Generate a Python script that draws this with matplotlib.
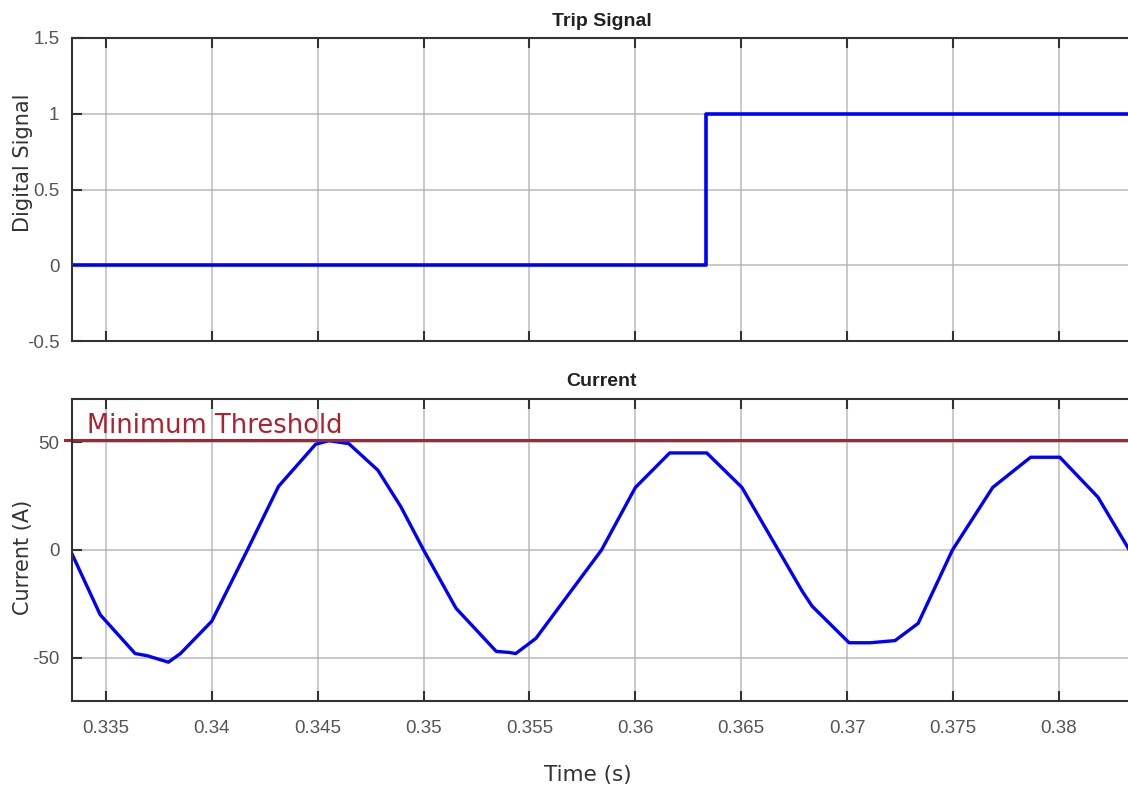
import matplotlib
matplotlib.use("Agg")
import matplotlib.pyplot as plt
import numpy as np

# Data
trip_time = [0.3334, 0.36332, 0.36332, 0.3834]
trip_value = [0, 0, 1, 1]

cur_time = [0.3334, 0.33473, 0.33638, 0.33695, 0.33795, 0.33852, 0.3400, 0.34168,
            0.34315, 0.3449, 0.34552, 0.34647, 0.34784, 0.34893, 0.3500, 0.35153,
            0.35343, 0.35405, 0.35435, 0.35530, 0.3584, 0.3600, 0.36162, 0.36337,
            0.36503, 0.36787, 0.36834, 0.37009, 0.37108, 0.37226, 0.37335, 0.37497,
            0.37687, 0.37866, 0.38004, 0.38184, 0.38335]
cur_value = [-1.8, -30, -48, -49, -52, -48, -33, 0,
             29.5, 49, 50.7, 49.3, 37, 20, 0, -27,
             -47, -47.5, -48, -41, 0, 29, 45, 45,
             29, -19, -26, -43, -43, -42, -34, 0,
             29, 43, 43, 24.5, -0.5]

threshold = 51
xticks = [0.335, 0.34, 0.345, 0.35, 0.355, 0.36, 0.365, 0.37, 0.375, 0.38]
xticklabels = ["0.335", "0.34", "0.345", "0.35", "0.355", "0.36", "0.365", "0.37", "0.375", "0.38"]

W, H = 1128, 792
fig = plt.figure(figsize=(W / 100, H / 100), dpi=100)

def frac(x0, y0, x1, y1):
    return [x0 / W, 1 - y1 / H, (x1 - x0) / W, (y1 - y0) / H]

ax1 = fig.add_axes(frac(72, 38, 1131, 341))
ax2 = fig.add_axes(frac(72, 399, 1131, 701))

TICK_SIZE = 13.5
LABEL_COLOR = "#555555"

for ax in (ax1, ax2):
    ax.set_xlim(0.3334, 0.3834)
    ax.set_xticks(xticks)
    ax.grid(True, color="#b0b0b0", linewidth=1.2, alpha=0.8)
    ax.tick_params(direction="in", length=7, width=1.5, top=True, right=False,
                   colors="#333333", labelcolor=LABEL_COLOR, labelsize=TICK_SIZE)
    ax.tick_params(axis="y", pad=9)
    for sp in ax.spines.values():
        sp.set_color("#333333")
        sp.set_linewidth(1.5)

# Top plot
ax1.plot(trip_time, trip_value, color="#0000ff", linewidth=2.6)
ax1.set_ylim(-0.5, 1.5)
ax1.set_yticks([-0.5, 0, 0.5, 1, 1.5])
ax1.set_yticklabels(["-0.5", "0", "0.5", "1", "1.5"], family="Liberation Sans")
ax1.set_xticklabels([])
ax1.set_title("Trip Signal", fontsize=14, fontweight="bold", family="Liberation Sans",
              color="#222222", pad=9)
ax1.set_ylabel("Digital Signal", fontsize=15, color="#333333", family="DejaVu Sans")
ax1.yaxis.set_label_coords(-39 / 1059, (341 - 163) / 303)

# Bottom plot
ax2.plot(cur_time, cur_value, color="#0000ff", linewidth=2.4)
ax2.set_ylim(-70, 70)
ax2.set_yticks([-50, 0, 50])
ax2.set_yticklabels(["-50", "0", "50"], family="Liberation Sans")
ax2.set_xticklabels(xticklabels, family="Liberation Sans")
ax2.tick_params(axis="x", pad=14)
ax2.set_title("Current", fontsize=14, fontweight="bold", family="Liberation Sans",
              color="#222222", pad=9)
ax2.set_ylabel("Current (A)", fontsize=15, color="#333333", family="DejaVu Sans")
ax2.yaxis.set_label_coords(-39 / 1059, (701 - 557) / 302)
ax2.set_xlabel("Time (s)", fontsize=15.5, color="#333333", family="DejaVu Sans")
ax2.xaxis.set_label_coords((588 - 72) / 1059, -(775 - 701) / 302)
ax2.xaxis.label.set_va("center")

# Threshold line (annotation extends slightly left of axes)
ax2.plot([0.33307, 0.3832], [threshold, threshold], color="#b0202e", linewidth=2.2,
         clip_on=False)
ax2.text(0.3341, threshold + 0.3, "Minimum Threshold", color="#b0202e",
         fontsize=18.5, family="DejaVu Sans", va="bottom", ha="left")

fig.savefig("out.png", dpi=100)
